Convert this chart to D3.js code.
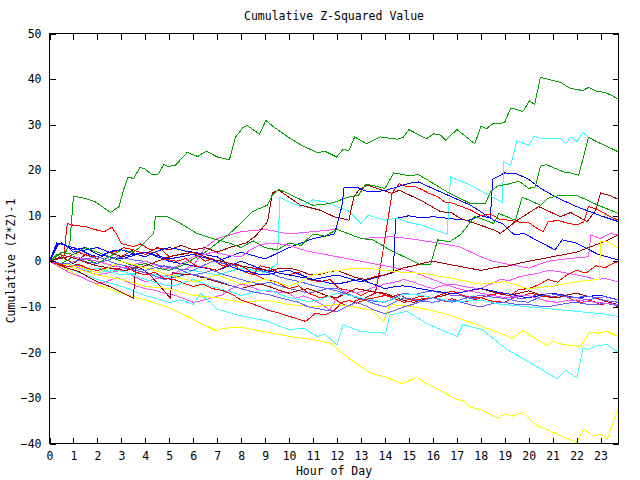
<!DOCTYPE html>
<html><head><meta charset="utf-8">
<script src="https://cdn.jsdelivr.net/npm/d3@7/dist/d3.min.js"></script>
<style>
body{margin:0;background:#fff;}
text{font-family:"DejaVu Sans Mono",monospace;font-size:11.5px;fill:#000;}
</style></head><body>
<svg id="c" width="640" height="480"></svg>
<script>
const title = "Cumulative Z-Squared Value";
const xLabel = "Hour of Day";
const yLabel = "Cumulative (Z*Z)-1";
const xTicks = d3.range(0, 24);
const yTicks = [-40,-30,-20,-10,0,10,20,30,40,50];

const G1 = [[0,0],[0.3,1.5],[0.55,0.5],[0.85,4],[1.0,14.3],[1.5,13.8],[1.9,13.1],[2.55,10.7],[2.9,12],[3.1,15.8],[3.27,18.4],[3.52,18.2],[3.77,20.6],[3.97,20.3],[4.28,19],[4.52,19],[4.77,21.2],[4.98,20.8],[5.26,21.1],[5.75,23.9],[6.19,23],[6.54,24.2],[7.0,22.9],[7.51,22.3],[7.76,27.2],[8.07,29.3],[8.25,29.8],[8.77,27.9],[9.03,30.9],[9.36,29.5],[10.06,26.9],[10.61,25.2],[11.17,23.9],[11.52,24.1],[11.98,22.9],[12.26,24.6],[12.49,24.2],[12.74,27.3],[13.23,25.8],[13.81,27.3],[14.51,26.8],[14.76,27.2],[15.0,28.9],[15.73,26.9],[16.04,28.0],[16.32,27.7],[16.53,26.6],[17.01,28.9],[17.75,25.8],[18.02,29.7],[18.24,29.1],[18.5,30.2],[18.99,30.4],[19.24,33.5],[19.48,33.4],[19.75,32.8],[20.03,35.2],[20.25,34.4],[20.49,40.4],[20.98,39.7],[21.33,39.3],[21.68,38.1],[21.96,37.7],[22.27,37.5],[22.51,38.2],[22.79,37.4],[23.14,37.1],[23.49,36.4],[23.75,35.5]];
const G2 = [[0,0],[0.5,-0.5],[1,1],[1.5,0.5],[2,-0.5],[2.5,1],[3,0],[3.5,-1],[4,-0.5],[4.5,-1.5],[5,-2],[5.5,-1],[6,0.5],[6.5,2],[7,4],[7.5,6],[7.97,8.3],[8.46,10.9],[9.09,12.3],[9.3,14.5],[9.57,15.8],[9.9,15],[10.5,13.5],[11.0,12.3],[11.5,12.5],[11.9,13],[12.5,14.1],[12.9,14.5],[13.2,16.9],[13.6,16.5],[14.0,16.0],[14.37,19.4],[15.0,18.8],[15.4,19],[15.8,17.8],[16.2,16.5],[16.7,14.9],[17.57,12.7],[18.2,12.7],[18.4,15.2],[18.7,16.5],[19.2,17.0],[19.6,17.6],[20.0,16],[20.28,16.3],[20.49,20.9],[20.74,21.2],[21.47,19.6],[21.74,19.4],[22.09,18.9],[22.5,27.2],[22.86,26.2],[23.48,24.7],[23.75,24]];
const G3 = [[0,0],[0.5,2],[1,1.5],[1.5,3],[2,2],[2.5,1],[3,2.5],[3.5,2],[3.8,3.2],[4.35,6.1],[4.42,9.8],[4.91,9.8],[5.47,8.3],[6.16,6.1],[6.8,5],[7.5,4],[8,3],[8.5,4.5],[9,3],[9.5,2.5],[10,4],[10.5,3.5],[11,6],[11.5,5.5],[12,7],[12.5,6],[13,5],[13.5,4.7],[14.2,2.5],[15.0,0.5],[15.5,-0.8],[15.9,-0.8],[16.2,4.7],[16.7,4.3],[17.15,5.8],[17.75,9.8],[18,9.4],[18.54,8.3],[18.75,10.5],[19.45,9],[19.73,14.1],[20.5,12.3],[20.8,13.8],[21.3,14.5],[22,14.5],[22.9,12.3],[23.75,10.5]];
const C1 = [[0,0],[0.5,-1],[1,-0.5],[1.5,-2],[2,-1.5],[3,-3],[4,-2.5],[5,-3.5],[6,-2],[7,-3],[8,-1.5],[9,-2.5],[9.5,-0.5],[9.62,14],[10,13],[10.5,12],[11,13.5],[11.5,13],[12,12],[12.5,11],[13,8.3],[13.3,10.1],[14,9],[14.5,9.5],[15,8.5],[15.5,8],[16,7],[16.6,6],[16.74,18.5],[17.5,16.9],[18,15.5],[18.5,14],[18.9,13],[18.96,21.8],[19.25,21.1],[19.5,26.4],[20,25.5],[20.24,27.5],[20.56,26.9],[21.33,26.9],[21.54,25.8],[21.77,27.3],[22.02,26.3],[22.26,28.2],[22.51,27.2],[22.86,26.2],[23.48,24.7],[23.75,24.1]];
const C2 = [[0,0],[1,-2],[2,-4],[3,-5.5],[4,-7.5],[5,-9],[5.5,-8.5],[6,-9.5],[6.3,-7],[7,-10.5],[8,-12],[9,-13],[10,-15],[10.6,-14.7],[11.17,-16.5],[11.5,-16],[12,-18.3],[12.26,-13.9],[12.98,-15.4],[14.03,-15.8],[14.2,-11.8],[14.93,-11],[15.76,-13.7],[17.01,-16.5],[17.26,-13.9],[18.06,-15],[19.1,-19.4],[20.08,-22.3],[21.19,-25.8],[21.54,-23.9],[22.02,-25.6],[22.27,-19],[22.51,-19.4],[22.86,-18.5],[23.28,-18.3],[23.75,-20]];
const C3 = [[0,0],[0.4,-0.4],[0.8,-0.8],[1.2,-1.2],[1.6,-2],[2,-2.5],[2.4,-2.2],[2.8,-2],[3.2,-2.4],[3.6,-3.2],[4,-4],[4.4,-4.6],[4.8,-5.2],[5.2,-5.4],[5.6,-4.6],[6,-4],[6.4,-4.8],[6.8,-5.6],[7.2,-6.2],[7.6,-6.8],[8,-7.5],[8.4,-7],[8.8,-6.4],[9.2,-6.4],[9.6,-7.2],[10,-8],[10.4,-8.4],[10.8,-8.8],[11.2,-8.6],[11.6,-7.8],[12,-7],[12.4,-7.4],[12.8,-7.8],[13.2,-8.2],[13.6,-8.6],[14,-9],[14.4,-8.2],[14.8,-7.4],[15.2,-7.2],[15.6,-7.6],[16,-8],[16.4,-8.4],[16.8,-8.8],[17.2,-8.8],[17.6,-8.6],[18,-8.5],[18.4,-9],[18.8,-9.4],[19.2,-9.6],[19.6,-9.8],[20,-10],[20.4,-10.2],[20.8,-10.4],[21.2,-10.6],[21.6,-10.8],[22,-11],[22.4,-11.2],[22.8,-11.4],[23.2,-11.6],[23.75,-12.1]];
const Y1 = [[0,0],[1,-2.5],[2,-5.2],[3,-7],[4,-8.5],[4.84,-9.9],[5.75,-12.1],[6.16,-13.2],[6.93,-15.2],[7.25,-14.7],[8,-14.5],[9,-15.5],[10,-16.5],[11,-17.2],[11.73,-18],[12.56,-21.6],[13.47,-24.7],[14.03,-25.4],[14.73,-26.9],[15.3,-25.5],[15.92,-27.3],[16.95,-30.2],[17.3,-30.7],[17.57,-32],[17.99,-32.6],[18.75,-34.5],[19.03,-33.5],[19.31,-34],[19.77,-33.1],[20.35,-36.1],[20.91,-37.3],[21.47,-38.6],[22.0,-39.7],[22.3,-36.8],[22.72,-38.4],[22.97,-37.9],[23.28,-39],[23.75,-32.2]];
const Y2 = [[0,0],[1,-1.5],[2,-3],[3,-4],[4,-5.5],[5,-6],[6,-7.5],[7,-8],[8,-9],[9,-8.5],[10,-9.5],[11,-10],[12,-9.5],[12.56,-9.9],[13.47,-10.7],[13.95,-13.2],[14.2,-9.5],[14.9,-9.8],[15.9,-10.7],[16.5,-11.5],[17.85,-13.9],[18.96,-16.1],[19.31,-16.9],[19.77,-15.2],[20.35,-17.2],[20.77,-18.5],[21.02,-17.6],[21.47,-18.3],[22.16,-18.7],[22.55,-15.5],[22.86,-15.8],[23.28,-15.4],[23.75,-16.6]];
const Y3 = [[0,0],[0.4,-0.4],[0.8,-0.8],[1.2,-1.2],[1.6,-1.8],[2,-2.5],[2.4,-1.6],[2.8,-0.6],[3,0],[3.4,-0.6],[3.7,-1],[4,-1.5],[4.4,-2],[4.7,-2.6],[5,-3],[5.4,-3.6],[5.7,-4],[6,-4.5],[6.4,-4],[6.7,-3.4],[7,-3],[7.4,-3.8],[7.7,-4.4],[8,-5],[8.4,-4.6],[8.7,-4.2],[9,-4],[9.4,-4.6],[9.7,-5],[10,-5.5],[10.4,-4.6],[10.7,-3.8],[11,-3],[11.4,-2.6],[11.7,-2.2],[12,-2],[12.4,-1.8],[12.7,-1.6],[13,-1.5],[13.4,-1.6],[13.7,-1.8],[14,-2],[14.4,-2.2],[14.7,-2.4],[15,-2.5],[15.4,-2.6],[15.7,-2.8],[16,-3],[16.4,-3.4],[16.7,-3.6],[17,-4],[17.4,-4.4],[17.7,-4.8],[18,-5],[18.4,-4.8],[18.7,-4.6],[19,-4.5],[19.4,-5],[19.7,-5.6],[20,-6],[20.4,-5.8],[20.7,-5.6],[21,-5.5],[21.4,-5],[21.7,-4.8],[22,-4.5],[22.4,-4.2],[22.7,-4.1],[22.95,-4],[23.0,4.3],[23.2,4.4],[23.4,4],[23.75,2.8]];
const D1 = [[0,0],[0.5,1],[1,-0.5],[1.5,1.5],[2,0.5],[2.5,2],[3,1],[3.5,2.5],[4,1.5],[4.5,3],[5,2.5],[5.5,3.5],[6,2.5],[6.5,3],[7,2],[7.5,3],[8.2,4],[8.6,5.5],[9.1,8.7],[9.3,15],[9.57,15.6],[10.48,12.3],[11.31,11.2],[11.87,9.8],[12.5,9],[12.7,14.1],[12.9,15.6],[13.26,16.7],[14.3,14.9],[14.6,15.6],[15.49,13.4],[16.32,10.9],[16.8,10.6],[17.15,9.4],[17.6,8.6],[18.54,6.9],[18.82,6.1],[19.52,9],[20.42,12],[21.33,9.8],[21.75,10.7],[22.44,8.7],[22.8,11.2],[23.0,15],[23.35,14.5],[23.75,13.6]];
const D2 = [[0,0],[0.4,-0.8],[0.8,-1.6],[1.2,-2.2],[1.6,-3.4],[2,-4.5],[2.5,-5.5],[3.0,-6.8],[3.5,-8.1],[3.6,-1],[3.9,-1.8],[4.2,-3],[4.6,-5.4],[5.05,-8.1],[5.12,-2.5],[5.5,-2.8],[6,-3],[6.4,-3.6],[6.8,-4.2],[7.2,-4.8],[7.6,-5.4],[8,-6],[8.4,-5.4],[8.8,-5],[9.2,-5.6],[9.6,-6.4],[10,-7],[10.4,-6.4],[10.8,-6],[11.2,-6.8],[11.6,-7.6],[12,-8],[12.4,-7],[12.8,-6],[13.2,-6.4],[13.6,-6.8],[14,-7],[14.4,-7.8],[14.8,-8.6],[15.2,-9],[15.6,-8.4],[16,-8],[16.4,-7.6],[16.8,-7],[17.2,-6.8],[17.6,-6.4],[18,-6],[18.4,-6.6],[18.8,-7.2],[19.2,-7.5],[19.6,-7],[20,-6.5],[20.4,-7.2],[20.8,-7.8],[21.2,-8],[21.6,-7.4],[22,-7],[22.4,-7.6],[22.8,-8],[23.2,-8.8],[23.75,-9.5]];
const D3 = [[0,0],[0.4,0.6],[0.8,1],[1.2,0.4],[1.6,-0.4],[2,-1],[2.4,-1.4],[2.8,-1.8],[3.2,-2],[3.6,-1.4],[4,-1],[4.4,-0.2],[4.8,0.6],[5.2,1.2],[5.6,1.6],[6,2],[6.4,1.2],[6.8,0.4],[7.2,0],[7.6,-0.6],[8,-1],[8.4,-1.4],[8.8,-1.8],[9.2,-2],[9.6,-1.6],[10,-1.5],[10.4,-2],[10.8,-2.8],[11.2,-3],[11.6,-2.4],[12,-2],[12.4,-2.8],[12.8,-3.6],[13.2,-4],[13.6,-3.4],[14,-3],[14.4,-2.2],[14.8,-1.4],[15.2,-1],[15.6,-0.4],[16,0],[16.4,-0.4],[16.8,-0.8],[17.2,-1.2],[17.6,-1.6],[18,-2],[18.4,-1.6],[18.8,-1.2],[19.2,-1],[19.6,-0.4],[20,0],[20.4,0.4],[20.8,0.8],[21.2,1.2],[21.6,1.6],[22,2],[22.4,2.8],[22.8,3.6],[23.2,4.4],[23.75,5.8]];
const B1 = [[0,0],[0.3,4],[0.7,3.5],[1,2],[2,3],[3,1],[4,2],[5,0],[6,-1],[7,-2],[8,0],[9,-2],[10,-3],[11,-4],[12,-3],[13,-4.5],[14,-3],[14.35,-2.5],[14.45,9.4],[15,10],[15.5,9.5],[16,9.8],[16.5,9.5],[17,9.2],[17.5,9],[18.0,10],[18.4,9.5],[18.5,18],[19.0,19.4],[19.5,19.2],[20,18],[20.5,16],[21,14.5],[21.5,13.2],[22,12],[22.5,11],[23,10],[23.75,8.7]];
const B2 = [[0,0],[0.3,3.5],[0.5,4],[1,2.5],[1.5,3],[2,1.5],[3,0.5],[4,2],[5,0.5],[6,1.5],[7,0],[8,2],[9,0.5],[10,3],[11,5],[11.5,5.5],[11.9,6],[12.0,8],[12.2,12],[12.3,16.3],[12.8,16.3],[13.3,15.2],[14,15.5],[15,17.1],[15.4,17.4],[16.46,14.9],[17.57,12.3],[18,10.9],[18.54,9],[18.9,8.3],[19.4,5.8],[19.8,6.1],[21.1,2.5],[21.4,4.7],[22,4],[22.9,1.5],[23.75,0.3]];
const B3 = [[0,0],[0.4,4],[0.7,3.4],[1,3],[1.4,2.2],[1.7,1.4],[2,1],[2.4,1.8],[2.7,2.4],[3,2.5],[3.4,1.8],[3.7,1.4],[4,1],[4.4,2],[4.7,2.6],[5,3],[5.4,2.6],[5.7,2.2],[6,2],[6.4,1.6],[6.7,1.2],[7,1],[7.3,0],[7.5,-1],[7.8,-1.6],[8,-2],[8.4,-2.4],[8.7,-2.8],[9,-3],[9.4,-2.6],[9.7,-2.2],[10,-2],[10.4,-2.8],[10.7,-3.4],[11,-4],[11.4,-4.4],[11.7,-4.8],[12,-5],[12.4,-4.6],[12.7,-4.2],[13,-4],[13.4,-4.8],[13.7,-5.4],[14,-6],[14.4,-5.6],[14.7,-5.4],[15,-5.5],[15.4,-6],[15.7,-6.2],[16,-6.5],[16.4,-6.8],[16.7,-7],[17,-7],[17.4,-6.6],[17.7,-6.2],[18,-6],[18.4,-6.4],[18.7,-6.8],[19,-7],[19.4,-7.4],[19.7,-7.8],[20,-8],[20.4,-7.6],[20.7,-7.2],[21,-7],[21.4,-7.4],[21.7,-7.8],[22,-8],[22.4,-7.8],[22.7,-7.6],[23,-7.5],[23.4,-8],[23.75,-8.5]];
const M1 = [[0,0],[1,-1],[2,-3],[3,-2],[4,-4.5],[5,-3],[6,-1],[6.5,3],[7,5],[8,6.5],[9,7],[10,6],[11,6.5],[12,7],[13,5],[14.3,5.4],[15,5],[16,4.2],[17.1,3.2],[18,1],[18.5,0],[20,-1.5],[20.8,0],[21.5,0.5],[22.5,1],[22.6,5.8],[23,5],[23.4,6.1],[23.75,5.8]];
const M2 = [[0,0],[0.4,-1.2],[0.8,-2.4],[1.2,-3.2],[1.6,-4.2],[2,-5],[2.4,-4.4],[2.8,-3.6],[3.2,-4.4],[3.6,-5.4],[4,-6],[4.4,-6.4],[4.8,-7],[5.2,-7.4],[5.6,-8.2],[6,-9],[6.4,-8.6],[6.8,-8],[7.2,-7.4],[7.6,-6],[8,-5],[8.4,-5.6],[8.8,-6.4],[9.2,-6.6],[9.6,-6.8],[10,-7],[10.27,-8.1],[10.6,-7.6],[11.0,-8.4],[11.4,-9.6],[11.7,-10.7],[12,-8],[12.4,-6.4],[12.8,-7],[13.2,-6.4],[13.6,-5.6],[14,-5],[14.4,-4.6],[14.8,-4],[15.2,-4.6],[15.6,-5.4],[16,-6],[16.4,-5.4],[16.8,-5],[17.2,-5.4],[17.6,-5.8],[18,-6],[18.4,-5],[18.8,-4],[19.2,-4.2],[19.6,-3.4],[20,-3],[20.4,-2.6],[20.8,-2],[21.2,-2.2],[21.6,-2.6],[22,-3],[22.4,-3.4],[22.8,-4],[23.2,-3.8],[23.75,-4.5]];
const M3 = [[0,0],[0.4,0.6],[0.8,1],[1.2,0.8],[1.6,0.4],[2,0],[2.4,-0.6],[2.8,-1.2],[3.2,-1.4],[3.6,-0.6],[4,0],[4.4,-0.8],[4.8,-1.6],[5.2,-1.4],[5.6,-0.2],[6,1],[6.4,1.4],[6.8,2],[7.2,1.6],[7.6,1.2],[8,1],[8.4,2.6],[8.8,3.6],[9.2,4],[9.6,3.8],[10,3.5],[10.4,2.8],[10.8,2.2],[11.2,1.8],[11.6,1.4],[12,1],[12.4,0.6],[12.8,0.2],[13.2,-0.2],[13.6,-0.6],[14,-1],[14.4,-1.4],[14.8,-1.8],[15.2,-2.4],[15.6,-3.2],[16,-4],[16.4,-4.8],[16.8,-5.6],[17.2,-6.2],[17.6,-6.6],[18,-7],[18.4,-7.4],[18.8,-7.8],[19.2,-8],[19.6,-7.6],[20,-7.5],[20.4,-8.2],[20.8,-8.8],[21.2,-9],[21.6,-8.6],[22,-8.5],[22.4,-8.8],[22.8,-9],[23.2,-9.2],[23.75,-9.5]];
const R1 = [[0,0],[0.6,1],[0.74,8.3],[1.0,7.9],[1.5,7.6],[2.0,6.8],[2.3,6.5],[2.6,7.5],[2.82,5.8],[3.0,3.9],[3.5,3.2],[3.8,3.8],[4.2,2.5],[4.6,2.9],[5,1],[5.5,1.6],[6,2],[6.5,0],[6.8,0.6],[7.2,-1],[7.6,-0.4],[8,-2],[8.5,-3],[8.8,-1],[9.2,-1.5],[9.6,-2.6],[10,-3],[10.4,-2.4],[10.8,-4],[11.3,-4.5],[11.7,-4],[12.1,-6],[12.6,-6.5],[13,-7.5],[13.4,-6.5],[13.8,-7],[14.3,-7.8],[14.6,-7.2],[15,-8.5],[15.5,-7.6],[16,-8],[16.5,-8.8],[16.8,-8.2],[17.2,-9],[17.7,-8.5],[18,-8],[18.5,-8.8],[19,-9],[19.3,-8.2],[19.7,-7.6],[20.1,-7],[20.5,-7.6],[21,-8],[21.4,-7.2],[21.8,-8.4],[22.2,-9],[22.6,-8.6],[23,-9.5],[23.4,-9.2],[23.75,-10]];
const R2 = [[0,0],[0.4,1.5],[0.8,1],[1.2,2],[1.6,1.2],[2,1],[2.4,1.8],[2.8,2.2],[3.1,3],[3.5,2.5],[4,1.5],[4.4,2],[4.8,0.5],[5.3,0],[5.7,0.6],[6.1,-1],[6.6,-1.5],[7,-2],[7.4,-1],[7.8,-0.6],[8.2,-1.6],[8.6,-3],[9,-4],[9.5,-4.6],[10,-6],[10.4,-5.4],[10.8,-7],[11.3,-8],[11.7,-7.6],[12.1,-9],[12.5,-10],[12.8,-8.6],[13.2,-8],[13.6,-7],[13.85,0],[14.0,5],[14.3,15],[14.6,17],[14.9,16.4],[15.2,16.5],[15.6,15.6],[15.8,15],[16.2,14.2],[16.5,13],[16.8,12.8],[17.2,12],[17.6,11.2],[18,10],[18.4,10.4],[18.8,9.2],[19.2,9],[19.6,8.6],[20,8.5],[20.3,7.4],[20.6,6.5],[20.8,8.6],[21.2,9],[21.6,8.4],[22,8],[22.3,8.6],[22.5,12],[22.8,11.5],[23,11],[23.4,9.8],[23.75,9]];
const R3 = [[0,0],[0.4,-0.6],[0.8,-1.2],[1.2,-0.6],[1.6,-1.6],[2,-2],[2.4,-1.4],[2.8,-1.6],[3.2,-1.2],[3.6,-2.4],[4,-3],[4.4,-2.4],[4.8,-3.8],[5.2,-4],[5.6,-4.8],[6,-5.5],[6.4,-5],[6.8,-6],[7.2,-6.4],[7.6,-7.2],[8,-8.5],[8.4,-9.2],[8.8,-10],[9.1,-10.7],[9.6,-11.4],[10.2,-12.4],[10.7,-13.2],[11.1,-11.4],[11.5,-11.8],[11.9,-10.7],[12.2,-9],[12.5,-8.6],[12.8,-9.2],[13.2,-8.4],[13.6,-8],[14,-7.5],[14.4,-8.2],[14.8,-9],[15.2,-8.6],[15.6,-8.2],[16,-8],[16.4,-7.2],[16.8,-6.5],[17.2,-7.4],[17.6,-8],[18,-8],[18.4,-7.4],[18.8,-7],[19.2,-7.6],[19.6,-6.2],[20,-6],[20.4,-5.2],[20.8,-4],[21.2,-4.6],[21.6,-3],[22,-2],[22.4,-2.6],[22.8,-1],[23.2,-1.4],[23.5,-0.5],[23.75,0]];
const S1 = [[0,0],[0.4,-0.6],[0.8,-1.2],[1.2,-0.8],[1.6,-1.6],[2,-2],[2.4,-1.4],[2.8,-1],[3.2,-1.6],[3.6,-2],[4,-2.5],[4.4,-3.2],[4.8,-4],[5.2,-3.6],[5.6,-3],[6,-3],[6.4,-2.6],[6.8,-2],[7.2,-2.8],[7.6,-3.4],[8,-4],[8.4,-4.6],[8.8,-5],[9.2,-4.6],[9.6,-5.4],[10,-6],[10.4,-6.4],[10.8,-7],[11.2,-6.6],[11.6,-6],[12,-6],[12.4,-7],[12.8,-8],[13.2,-8.4],[13.6,-8.8],[14,-9],[14.4,-8],[14.8,-7],[15.2,-7.4],[15.6,-6.8],[16,-6.5],[16.4,-7],[16.8,-7.5],[17.2,-7.6],[17.6,-8.2],[18,-8],[18.4,-7.4],[18.8,-7],[19.2,-7.6],[19.6,-8.2],[20,-8],[20.4,-7.2],[20.8,-7.5],[21.2,-8],[21.6,-7.6],[22,-8],[22.4,-8.4],[22.8,-8.2],[23.2,-8.6],[23.75,-9]];
const S2 = [[0,0],[0.4,0.6],[0.8,1],[1.2,0.4],[1.6,-0.2],[2,-0.5],[2.4,0.2],[2.8,1],[3.2,0.6],[3.6,0.2],[4,0],[4.4,-0.6],[4.8,-1.2],[5.2,-1.6],[5.6,-1.8],[6,-2],[6.4,-1],[6.8,0],[7.2,-0.4],[7.6,-0.8],[8,-1],[8.4,-1.4],[8.8,-2],[9.2,-2.6],[9.6,-3.4],[10,-4],[10.4,-4.4],[10.8,-5],[11.2,-5.6],[11.6,-6],[12,-6.5],[12.4,-7.2],[12.8,-8],[13.2,-8.6],[13.6,-9.4],[14,-10],[14.4,-9],[14.8,-8],[15.2,-8.4],[15.6,-8.8],[16,-9],[16.4,-8.6],[16.8,-8.5],[17.2,-9],[17.6,-9.6],[18,-10],[18.4,-9.4],[18.8,-9],[19.2,-9.2],[19.6,-9.6],[20,-9.5],[20.4,-9.8],[20.8,-10],[21.2,-9.6],[21.6,-9.2],[22,-9],[22.4,-9.4],[22.8,-9.5],[23.2,-9.2],[23.75,-9.8]];
const S3 = [[0,0],[0.4,-0.4],[0.8,-0.5],[1.2,0.2],[1.6,0.6],[2,1],[2.4,0.2],[2.8,-0.6],[3.2,-1],[3.6,-1.6],[4,-2],[4.4,-1.4],[4.8,-1],[5.2,-1.4],[5.6,-2.2],[6,-3],[6.4,-3.4],[6.8,-4],[7.2,-4.6],[7.6,-5.4],[8,-6],[8.4,-6.6],[8.8,-7],[9.2,-7.4],[9.6,-8],[10,-8.5],[10.4,-9],[10.8,-10],[11.2,-10.4],[11.6,-10.8],[12,-11],[12.4,-10],[12.8,-9],[13.2,-9.8],[13.6,-10.8],[14,-11.5],[14.4,-10.8],[14.8,-10],[15.2,-9.4],[15.6,-8.6],[16,-8],[16.4,-8.6],[16.8,-9],[17.2,-8.4],[17.6,-7.8],[18,-7.5],[18.4,-7.8],[18.8,-8],[19.2,-8.4],[19.6,-8.8],[20,-9],[20.4,-8],[20.8,-7],[21.2,-7.4],[21.6,-7.8],[22,-8],[22.4,-7.6],[22.8,-8],[23.2,-7.8],[23.75,-8.5]];

const series = [
  {d:R1,c:"#ff0000"},{d:G1,c:"#00a000"},{d:B1,c:"#0000ff"},{d:M1,c:"#ff50ff"},{d:C1,c:"#40ffff"},{d:D1,c:"#a00000"},{d:Y1,c:"#ffff00"},{d:S1,c:"#6060ff"},
  {d:R2,c:"#ff0000"},{d:G2,c:"#00a000"},{d:B2,c:"#0000ff"},{d:M2,c:"#ff50ff"},{d:C2,c:"#40ffff"},{d:D2,c:"#a00000"},{d:Y2,c:"#ffff00"},{d:S2,c:"#6060ff"},
  {d:R3,c:"#ff0000"},{d:G3,c:"#00a000"},{d:B3,c:"#0000ff"},{d:M3,c:"#ff50ff"},{d:C3,c:"#40ffff"},{d:D3,c:"#a00000"},{d:Y3,c:"#ffff00"},{d:S3,c:"#6060ff"}
];

const L=49.5, R=618.5, T=33.5, B=443.5;
const x = d3.scaleLinear().domain([0,23.75]).range([L,R]);
const y = d3.scaleLinear().domain([-40,50]).range([B,T]);
const svg = d3.select("#c");

const line = d3.line().x(d=>x(d[0])).y(d=>y(d[1]));
svg.append("g").selectAll("path").data(series).join("path")
  .attr("d", s=>line(s.d)).attr("fill","none").attr("stroke",s=>s.c)
  .attr("stroke-width",1).attr("shape-rendering","crispEdges");

svg.append("rect").attr("x",L).attr("y",T).attr("width",R-L).attr("height",B-T)
  .attr("fill","none").attr("stroke","#000").attr("shape-rendering","crispEdges");

const ax = svg.append("g").attr("shape-rendering","crispEdges");
ax.append("g").attr("transform",`translate(0,${B})`)
  .call(d3.axisBottom(x).tickValues(xTicks).tickSizeInner(-6).tickSizeOuter(0).tickPadding(8).tickFormat(d3.format("d")))
  .call(g=>g.select(".domain").remove());
ax.append("g").attr("transform",`translate(0,${T})`)
  .call(d3.axisTop(x).tickValues(xTicks).tickSizeInner(-6).tickSizeOuter(0).tickFormat(""))
  .call(g=>g.select(".domain").remove());
ax.append("g").attr("transform",`translate(${L},0)`)
  .call(d3.axisLeft(y).tickValues(yTicks).tickSizeInner(-6).tickSizeOuter(0).tickPadding(8).tickFormat(d3.format("d")))
  .call(g=>g.select(".domain").remove());
ax.append("g").attr("transform",`translate(${R},0)`)
  .call(d3.axisRight(y).tickValues(yTicks).tickSizeInner(-6).tickSizeOuter(0).tickFormat(""))
  .call(g=>g.select(".domain").remove());
svg.selectAll(".tick text").attr("font-family","DejaVu Sans Mono, monospace").attr("font-size","11.5px").attr("fill","#000");
svg.selectAll(".tick line").attr("stroke","#000");

svg.append("text").attr("x",334).attr("y",20).attr("text-anchor","middle").text(title);
svg.append("text").attr("x",334).attr("y",475).attr("text-anchor","middle").text(xLabel);
svg.append("text").attr("transform","translate(15,261) rotate(-90)").attr("text-anchor","middle").text(yLabel);
</script></body></html>
